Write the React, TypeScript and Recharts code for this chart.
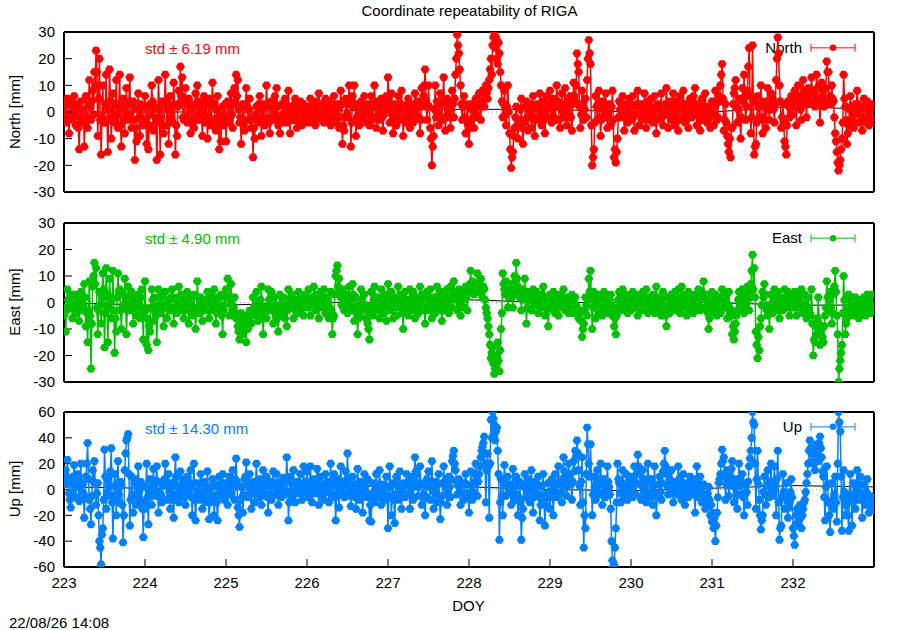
import { LineChart, Line, XAxis, YAxis, ReferenceLine } from "recharts";

// 15-minute solutions, DOY 223.0 .. 232.99 (96 per day)
const EPOCHS_PER_DAY = 96;
const FIRST_DOY = 223;

const dayTicks = [223, 224, 225, 226, 227, 228, 229, 230, 231, 232];
const nePanelTicks = [-30, -20, -10, 0, 10, 20, 30];
const upPanelTicks = [-60, -40, -20, 0, 20, 40, 60];

// North residuals [mm], 24 values = 6 hours per row
const northMm = [
  2, -1, -4, 3, 5, -2, -8, 4, 3, -3, -2, 2, 6, -1, -5, 3, 1, -6, -14, -2, 4, -4, -3, 1,
  -13, -4, 6, -2, -6, 3, 12, 2, -3, 4, 8, -1, 15, 10, 23, 15, -9, 5, 20, -3, -16, -2, 10, -4,
  -4, 3, 14, -3, -15, 1, 16, 4, -10, -2, 7, -4, -2, 3, 12, -1, -6, 2, 14, -5, -13, 2, 5, -3,
  -8, 2, 9, -1, -3, 4, 13, -2, -6, 3, 4, -3, -18, -6, -11, 1, 7, -2, -9, 3, 2, -4, -5, 2,
  6, -3, -12, 2, -14, -5, 3, -1, 10, 4, -7, 2, -2, -4, -18, -3, 12, 1, -16, -2, 4, -5, -8, 3,
  14, 4, -5, 1, -12, -3, 6, -2, 2, -4, 11, 3, -16, -5, -9, 2, 8, 3, 17, 6, 13, -2, -3, 4,
  9, -2, -4, 3, 5, -3, -8, 1, 2, -4, -6, 3, 7, 2, 10, -1, -3, 3, 4, -2, -9, 1, 6, -4,
  -2, 3, -10, -3, 5, -2, -5, 4, 11, 2, 3, -4, -7, 1, 6, -2, -14, -5, -11, -1, 2, -3, -5, 3,
  -11, -2, 4, -4, -3, 2, 7, -1, -6, 3, 9, 4, 14, 6, 12, 1, -4, -2, -12, -3, 3, -5, -7, 2,
  9, 2, -3, 1, 5, -3, -6, -2, -17, -6, -10, -1, 2, -3, -4, 3, 6, -2, -9, 1, 3, -4, -5, 2,
  10, 3, -2, -4, -8, -2, 4, 1, -3, 2, 6, -1, 9, 2, -5, -2, -8, -3, 3, -4, -1, 2, 5, -1,
  -4, 2, 8, -2, -8, 1, 2, -3, -3, 3, 5, -1, -6, 2, 1, -4, 4, -1, -5, 2, 3, -3, -2, 1,
  2, -2, -4, 1, 5, -1, -3, 3, 1, -3, -5, 2, 4, -1, 7, 2, -2, -3, 3, -1, -4, 2, 5, -2,
  -3, 1, 4, -2, -5, 2, 2, -3, 6, 1, -4, -1, 3, -2, -6, 2, 8, 3, -12, -5, -7, -2, 5, -1,
  -2, 3, 10, 4, -13, -4, 6, 2, 10, 3, -9, -2, 2, -1, -5, 1, 4, -2, -3, 2, 6, -1, -4, 2,
  3, -1, -5, 2, 6, -3, -2, 3, 10, 2, -6, -2, 4, -1, -3, 2, 5, -2, -7, -1, 2, 3, 6, 1,
  13, 5, -4, 2, 7, -1, -8, -2, 3, -3, -5, 1, 6, -2, -3, 3, 8, 1, -9, -3, 2, -1, -4, 3,
  5, -2, -6, 1, 3, -3, -4, 2, 7, 1, -2, 3, 4, -2, -8, -3, 9, 2, 6, 10, 16, 4, -3, 2,
  10, 2, -6, -10, -20, -13, -9, 1, 10, -2, 4, -1, -5, 3, 7, -2, -3, 4, 13, 3, -7, -2, 5, -1,
  4, 1, -6, -2, 8, 3, -2, 5, 14, 20, 29, 25, 22, 16, 10, 3, -3, 2, 6, -2, -8, -3, 3, -5,
  -12, -6, -4, 1, 3, -2, -6, 2, 5, -1, -2, 3, 7, 2, -3, 4, 8, 3, 2, 6, 10, 7, 5, 9,
  12, 16, 20, 14, 25, 28, 30, 24, 28, 20, 18, 26, 22, 15, 10, 4, -2, 3, 8, -1, -5, 2, 10, 0,
  -8, -14, -21, -17, -15, -9, -6, -2, 2, -5, -10, -3, -4, 1, 5, -6, -12, -4, -3, 2, 4, -2, -7, 1,
  3, -2, -6, 1, 6, -3, -9, -2, 2, 3, -3, 2, 7, -1, -5, 1, 4, -3, -8, -1, 6, 2, -2, 3,
  8, 2, -4, 1, 5, -2, -3, 3, 10, 4, 2, -3, -6, 1, 7, 2, -2, 3, 9, -1, -5, 1, 4, -2,
  6, -2, -7, 3, 11, 6, 4, 10, 22, 18, 15, 2, -6, -1, 8, 3, -3, 1, 5, -2, 12, 20, 27, 22,
  18, -5, -20, -17, -14, -4, 6, 2, -3, 3, 8, -2, -9, -3, 4, 1, -2, 3, 7, -1, -6, -2, 3, 1,
  -5, 2, 8, -3, -17, -14, -19, -15, -10, -2, 4, 1, -2, -1, 6, 2, -7, -2, 3, -1, -4, 2, 5, -2,
  -3, 2, 6, -2, -7, -1, 2, 3, 8, 2, -5, -1, 3, -3, -2, 1, 7, -2, -6, 1, 4, -1, -3, 2,
  5, -1, -4, 1, 6, -2, -8, -3, 3, 1, -2, 2, 7, -2, -5, -1, 2, 3, 9, 2, -6, -1, 4, -2,
  -3, 2, 7, -1, -5, 1, 4, -2, -7, -3, 6, 2, -2, 3, 8, -2, -4, 1, 3, -1, -6, -2, 5, 1,
  -2, 1, 6, 3, 9, 2, -5, -1, 3, -2, -7, -3, 5, 1, -3, 2, 7, -1, -4, 1, 2, -2, -6, 2,
  4, -1, -5, 2, 8, 3, -3, -2, 6, 4, 10, 14, 18, 5, -7, -3, 3, -4, -9, -12, -15, -10, -17, -6,
  -6, 3, 7, 9, 12, 2, -4, 1, 5, -3, -10, -2, 9, 4, 14, 6, -3, 2, 8, 17, 24, 6, -8, -2,
  25, 4, -16, -13, -12, -4, 6, 2, -2, 3, 10, -2, -8, -3, 4, 2, -6, 1, 9, 2, -3, 3, 7, 1,
  5, 1, -4, 3, 12, 20, 28, 22, 10, 4, -6, -2, 3, -4, -11, -13, -16, -5, 4, 2, -2, 3, 6, -1,
  3, 5, 8, 2, -5, 4, 10, 6, 4, 1, -3, 5, 12, 8, 6, 3, -2, 5, 9, 4, 3, 7, 13, 8,
  7, 4, 2, 8, 14, 9, 5, 3, -4, 5, 11, 6, 8, 2, 3, 9, 19, 15, 15, 4, 6, 3, 10, 5,
  4, -2, -8, -11, -15, -19, -22, -20, -18, -14, -10, -4, 14, 5, 2, -3, -12, -8, -5, 1, 6, 2, -3, -1,
  -6, -1, 3, 2, 8, 3, -4, 1, 2, -3, -7, -2, 5, 2, -2, -4, 4, 1, -5, -2, 1, 3, -3, -4,
];

// East residuals [mm]
const eastMm = [
  -5, -2, -11, -3, 5, 1, -2, 2, 3, -2, -6, -1, 1, 3, -4, -1, 2, -3, -7, -2, 4, 1, -3, -1,
  7, 2, -9, -4, -15, -3, 8, -5, -25, -8, 6, 10, 15, 7, 13, -2, -12, -3, 4, -1, -8, 2, 11, 5,
  -17, -4, 13, 3, -15, -2, 9, 2, -6, 1, 12, -3, -19, -6, -11, 2, 11, 4, 5, -3, -10, -2, 3, -1,
  9, 2, -12, -3, 6, 1, -3, -2, 4, -1, -8, -3, 2, 1, -5, -2, 3, -1, -6, 2, 5, -4, -14, -2,
  8, -3, -16, -6, -18, -9, -11, -2, 5, 1, -7, -3, 2, -5, -15, -4, 5, -1, -4, 2, 3, -2, -9, -1,
  4, -2, -6, -1, 1, -3, -3, 2, 5, -2, -8, -3, 2, 1, -4, -1, 6, 2, -2, -3, 3, -1, -6, -2,
  -3, 1, 4, -2, -8, -3, 2, -1, -5, -2, 3, -4, -10, -3, 8, 2, -4, -1, 2, -2, -7, -3, 1, -1,
  -3, -1, 4, -2, -6, -3, 3, 1, -2, -2, 5, 1, -8, -4, 2, -1, -4, -2, 3, -5, -12, -3, -1, 2,
  5, 3, 9, 2, -5, 1, 7, -1, -3, -2, 2, -4, -6, -5, -9, -11, -14, -8, -4, -7, -12, -9, -7, -5,
  -15, -9, -10, -6, -3, -5, -8, -3, 2, -2, -5, -1, 4, -3, -7, -4, -2, 1, 6, -2, -12, -6, -4, -2,
  -6, -2, 5, 1, -3, -1, 4, -3, -8, -2, 2, -1, -5, -6, -11, -3, 3, -1, -4, -2, 2, -3, -6, -1,
  -9, -3, 5, 1, -2, -1, 3, -2, -6, -1, 1, -2, -4, 1, 4, -1, -3, -2, 2, -1, -5, 1, 3, -1,
  -2, 1, 5, -1, -5, 1, 2, 2, 6, 2, -3, -1, 3, -2, -6, 1, 4, -1, -2, 2, 5, 1, -4, -1,
  2, -1, -6, -2, 4, -3, -12, -6, -5, 3, 10, 12, 14, 6, 9, 4, 2, -1, 5, 1, -3, 2, 3, -1,
  -4, 2, 6, 1, -3, -2, 7, 3, -7, -2, 2, -4, -12, -6, -5, -1, 5, 1, -2, -3, 3, -1, -6, -2,
  -8, -10, -14, -4, 4, -1, -5, 1, 6, 2, -3, -2, 2, -1, -6, -2, 5, 1, -4, -2, 3, -1, -7, -3,
  7, 2, -3, 1, 4, -1, -6, -2, 2, -1, -5, 1, 6, 2, -2, -1, 3, -4, -10, -3, 4, 1, -4, -1,
  -5, 1, 5, -1, -3, 2, 4, -2, -6, -1, 2, -2, -4, 1, 6, 2, -2, 1, 3, -3, -8, -2, 4, 1,
  -3, 1, 5, -1, -6, -2, 2, 1, -4, 2, 6, 1, -3, -1, 4, -2, -7, -3, 3, 1, -2, 2, 5, 1,
  -4, 2, 6, 1, -2, 3, 8, 4, 3, 1, -3, 2, 5, -1, -5, 2, 4, 1, -2, 3, 6, 2, -3, 4,
  5, 7, 12, 5, 8, 4, 3, 7, 6, 5, 11, 6, 4, 8, 9, 4, 2, 6, 5, 1, -2, -4, -6, -9,
  -12, -16, -21, -19, -17, -23, -27, -25, -24, -20, -15, -22, -26, -18, -10, -4, 11, 7, 5, 3, 8, 4, -2, 2,
  3, 5, 7, 2, -2, 4, 10, 8, 15, 9, 6, 3, 2, 5, -3, 1, 5, 3, 9, 4, -8, -2, 4, 1,
  2, 1, -3, 2, 5, 3, -1, 1, 4, -1, -4, 2, 3, 1, -2, 3, 6, 1, -5, -2, 1, -3, -9, -2,
  3, 1, -2, 2, 4, -1, -4, 1, 2, -2, -5, -1, 3, 1, -1, -2, 5, 1, -3, -1, 2, -2, -4, 1,
  -1, -2, 3, 1, -4, -1, 2, -1, -2, -3, -6, -4, -3, -7, -13, -10, -8, -3, 2, -1, -5, 1, 9, 4,
  12, 3, -10, -2, 4, 1, -6, -1, 3, 2, -4, -1, 2, -2, -5, 1, 4, 2, -3, -1, 2, -1, -4, 1,
  3, -1, -5, -4, -9, -6, -12, -5, -2, 1, 4, 2, -3, -1, 5, 1, -2, -1, 3, 2, -4, -1, 2, -2,
  -3, 1, 4, -1, -2, 1, 3, -2, -5, -1, 2, -2, -3, 1, 4, -1, -2, 2, 5, 1, -4, -1, 1, 2,
  -2, 1, 3, -1, -4, 2, 6, 1, -3, -1, 2, -2, -5, 1, 4, -1, -3, -5, -9, -2, 2, -1, -4, 1,
  3, -1, -2, 1, 4, -2, -3, 1, 5, -1, -4, 2, 6, 1, -2, -1, 3, -2, -5, 1, 4, -1, -3, 2,
  2, -1, -4, 1, 3, -2, -2, 1, 5, -1, -3, 2, 4, 3, 8, 2, -2, 1, 3, -4, -10, -6, -4, -1,
  4, 1, -3, -1, 3, -2, -5, 1, 2, -1, -4, 2, 5, -1, -2, 1, 3, -2, -6, -1, 4, -2, -3, -5,
  -12, -9, -14, -11, -8, -5, -3, 1, 4, -1, -2, 2, 5, 1, -4, -1, 3, 2, 6, 1, -3, 4, 7, 12,
  18, 5, 13, 2, -11, -16, -21, -13, -18, -9, -6, -1, 4, 2, 7, 3, -2, -3, -5, -1, -10, -2, 3, -1,
  -4, 1, 5, -1, -3, 2, 4, -2, -6, -1, 2, 1, -3, -2, 5, 1, -2, -1, 4, 2, -5, -2, 3, 1,
  -2, 1, 4, -1, -5, -2, 3, 1, -2, 2, 5, -1, -4, -2, 3, -1, -6, -3, 2, -2, -4, -5, 5, -8,
  -20, -14, -15, -9, -12, -6, 2, -8, -16, -12, -10, -13, -15, -9, -5, -2, 8, 2, -3, 1, 4, -2, -8, -4,
  3, 6, 12, 4, -5, -12, -30, -25, -22, -19, -16, -4, 10, 1, -12, -8, -6, -2, 3, 1, -4, -1, 2, -3,
  -5, -2, 2, -1, -3, -3, -6, -2, 1, -1, -4, -3, 2, -1, -5, -2, 3, 1, -2, -3, -4, -1, 3, -2,
];

// Up residuals [mm]
const upMm = [
  8, 4, 15, 10, 23, 6, -3, -8, -14, -2, 5, 10, 19, 3, -6, 5, 12, 2, -9, 6, 20, -5, 4, -3,
  -22, -6, 10, 20, 36, 8, -8, -15, -27, -5, 15, 6, 22, 4, -12, -3, 5, -20, -40, -45, -58, -35, -30, -8,
  31, 10, -15, -3, 8, 2, -5, 14, 32, -10, -38, -5, 12, 3, -20, 5, 22, -4, -10, 6, 3, -12, -41, -20,
  15, 28, 38, 40, 43, 12, -28, -8, 10, -4, -18, -6, 5, 8, -12, 4, 18, -2, -8, 6, 2, -15, -37, -10,
  -15, 2, 20, -6, -27, -4, 8, -2, -12, 4, 16, 3, -5, 7, 18, -5, -18, -2, 6, -4, -10, 5, 3, 8,
  20, 4, -8, 3, 12, -2, -15, -4, 5, -8, -22, 6, 25, 10, 2, -4, -10, 2, 14, 3, -5, -2, 8, -6,
  -12, 2, 10, -4, -3, 5, 15, -6, -20, 4, 20, -8, -24, -6, 5, -2, -8, 4, 12, -3, -15, -4, 6, -6,
  -10, 3, 14, -2, -23, -10, -6, 2, 8, -5, -20, -7, 4, -10, -24, -4, 10, 2, -5, 5, 12, -2, -8, 4,
  5, -3, -12, 2, 10, -4, -4, 6, 15, 2, -8, 8, 24, 6, -14, -20, -29, -8, 2, -6, -18, -4, 8, 10,
  21, 4, -6, 3, 12, -2, -15, -3, 4, 6, -10, 5, 20, 2, -3, -6, 8, 4, -12, -2, 15, 3, -5, 6,
  10, -6, -18, -4, 6, 2, -8, 4, 14, 3, -4, 5, 12, -2, -12, -4, 3, 6, -6, 2, 9, -4, -2, 8,
  25, 6, -24, -10, 10, -2, -5, 4, 15, 3, -10, -3, 6, 2, -2, 5, 12, -3, -8, 4, 18, -2, 3, 6,
  14, 3, -6, 5, 18, 2, -10, -2, 8, 4, -3, 6, 16, -2, -12, 3, 10, -3, 4, -4, -8, 2, 12, 5,
  6, -2, -10, 4, 20, 6, -4, 3, 12, -6, -24, -4, 8, 2, -14, 4, 18, 6, 5, -2, -6, 3, 14, 8,
  28, 8, -5, -2, -13, 2, 10, -3, 4, -6, -15, 3, 16, 5, -8, -2, 6, -5, -18, -4, 12, 3, -2, -6,
  8, -4, -24, -12, -25, -6, 5, -2, -10, 3, 12, 2, -6, 4, 15, -3, -12, -2, 3, 4, -8, 2, 10, -6,
  -30, -5, 18, 2, -20, -6, 5, -8, -26, -4, 10, 3, -8, 4, 14, -2, -15, -3, 2, 5, -6, 3, 12, 4,
  6, -3, -15, -4, 10, 2, -8, 6, 25, 14, 12, 2, -5, 5, 18, 4, -12, -6, 4, -4, -20, -6, 8, 2,
  14, 3, -8, 6, 22, 4, -15, -2, 6, -3, -10, 4, 12, -6, -23, -10, -5, 5, 18, 6, 2, -4, -12, -2,
  10, 2, -6, 8, 22, 26, 30, 20, 15, 6, -4, 3, 8, -2, -12, -3, 4, -4, -8, 5, 12, 4, -3, -6,
  -18, -4, 14, 3, -8, -2, 5, 12, 20, 8, -5, 6, 12, 18, 25, 30, 33, 36, 41, 20, -10, 15, 28, 18,
  -22, 20, 54, 40, 60, 55, 50, 38, 45, 48, 30, 12, -39, -10, 8, -6, -20, 5, 19, 8, -5, 4, 10, -2,
  4, -3, -12, 2, 16, 4, -8, 3, 10, -4, -20, -6, 6, -10, -39, -22, -15, 2, 12, 3, -6, -2, 8, -4,
  -10, 3, 15, -2, -18, -6, 6, 2, -5, 4, 10, -4, -24, -12, -8, 3, 12, -10, -28, -12, -3, -6, 5, -2,
  -15, -4, 8, -6, -20, 2, 12, -3, -6, 5, 18, 6, 4, -2, -10, 8, 25, 14, 10, 2, -5, 6, 20, 10,
  12, 4, -8, 6, 22, 14, 30, 26, 38, 28, 15, 3, -12, 6, 25, -10, -45, -20, -30, 12, 48, 35, 20, 10,
  35, 10, -20, -4, 10, 2, -8, 5, 15, 6, -4, 8, 20, 4, -12, -2, 8, 3, -6, 5, 18, 6, 2, -4,
  -15, -40, -55, -60, -58, -45, -30, -10, 20, 8, 5, -3, -10, 2, 15, 4, -5, 3, 12, -2, -8, 2, 6, -4,
  10, 2, -6, 5, 18, 6, -4, 12, 27, 18, 12, 4, -8, 3, 15, 8, 2, -4, -10, 6, 20, 8, -3, -6,
  8, -2, -12, 3, 18, -4, -20, -6, -5, 4, 10, -2, -8, 5, 14, 20, 30, 18, 12, 3, -4, 2, 8, -3,
  15, 4, -10, -2, 6, 3, -4, 6, 18, 8, 2, -4, -8, 3, 12, -3, -12, -2, 5, 4, -6, 2, 10, -2,
  -3, 4, 8, -4, -18, 2, 18, 5, -6, 3, 10, -2, -10, -5, 4, -6, -15, -10, -8, -3, 2, -8, -20, -12,
  -25, -18, -30, -22, -40, -28, -18, -6, 5, 8, 12, 20, 31, 22, 25, 10, -8, 4, 15, 6, -5, 3, 10, 16,
  22, 6, -10, 2, 8, -4, -15, 3, 20, 8, -4, 4, 12, -6, -20, -3, 5, -2, -12, 6, 18, 24, 30, 40,
  60, 52, 50, 20, -15, 8, 30, 4, -8, -20, -31, -24, -20, -2, 10, -4, -12, 3, 15, 4, -6, 6, 20, -2,
  -5, 6, 18, 2, -20, 8, 30, -10, -39, -30, -28, -6, 12, -2, -15, -4, 5, -8, -22, -14, -10, -2, 8, -6,
  -30, -36, -43, -28, -20, -15, -25, -18, -12, -22, -30, -20, -15, -10, -8, -2, 5, 12, 20, 30, 38, 32, 28, 22,
  30, 20, 15, 28, 35, 30, 22, 36, 41, 32, 25, 14, 10, -6, -24, 2, 18, 4, -10, -20, -33, -12, 5, -8,
  -15, -4, 10, -10, -25, 20, 60, 52, 45, 10, -32, -6, 15, -2, -20, -12, -8, -20, -32, -4, 12, -6, -28, -10,
  5, -4, -15, 2, 15, 4, -8, -2, 10, -6, -22, -8, 4, -3, -12, -2, 8, -6, -18, -10, -5, -12, -16, -8,
];

// daily running mean (black line), DOY 223..233
const northTrend = [0, 0, 0, 0, 1, 1, 1, 0, 0, 2, 1];
const eastTrend = [0, -1, -1, 0, 0, 1, 0, 0, 0, -1, -1];
const upTrend = [2, 1, 0, 1, 3, 2, 0, -1, 1, 3, 2];

const FONT = '"Liberation Sans", Arial, Helvetica, sans-serif';

const toRows = (values: number[]) =>
  values.map((v, i) => ({ doy: FIRST_DOY + i / EPOCHS_PER_DAY, v }));
const toTrend = (values: number[]) =>
  values.map((v, i) => ({ doy: FIRST_DOY + i, v }));

type PanelProps = {
  top: number;
  height: number;
  padTop: number;
  padBottom: number;
  values: number[];
  trend: number[];
  color: string;
  domain: [number, number];
  ticks: number[];
  showDays?: boolean;
};

function Panel({ top, height, padTop, padBottom, values, trend, color, domain, ticks, showDays }: PanelProps) {
  const rows = toRows(values);
  const trendRows = toTrend(trend);

  const renderDot = (p: any) => {
    const { cx, cy, index } = p;
    if (cx == null || cy == null) return <g key={`d${index}`} />;
    return (
      <polygon
        key={`d${index}`}
        points={`${cx - 4.5},${cy} ${cx - 2.2},${cy - 3.8} ${cx + 2.2},${cy - 3.8} ${cx + 4.5},${cy} ${cx + 2.2},${cy + 3.8} ${cx - 2.2},${cy + 3.8}`}
        fill={color}
      />
    );
  };

  const frame = { stroke: "#000", strokeWidth: 2 };
  const tickStyle = { fontSize: 15, fill: "#000", fontFamily: FONT };
  // only the bottom panel carries day ticks
  const dayTickLine = showDays ? { stroke: "#000" } : false;

  return (
    <div style={{ position: "absolute", left: 0, top }}>
      <LineChart width={900} height={height} data={rows} margin={{ top: 0, right: 0, bottom: 0, left: 0 }}>
        <XAxis
          dataKey="doy"
          type="number"
          domain={[223, 233]}
          ticks={dayTicks}
          interval={0}
          allowDataOverflow
          height={padBottom}
          tickSize={-8}
          tickMargin={18}
          tick={showDays ? tickStyle : false}
          axisLine={frame}
          tickLine={dayTickLine}
        />
        <XAxis
          xAxisId="top"
          orientation="top"
          dataKey="doy"
          type="number"
          domain={[223, 233]}
          ticks={dayTicks}
          interval={0}
          allowDataOverflow
          height={padTop}
          tickSize={-8}
          tick={false}
          axisLine={frame}
          tickLine={dayTickLine}
        />
        <YAxis
          type="number"
          domain={domain}
          ticks={ticks}
          interval={0}
          allowDataOverflow
          width={64}
          tickSize={-8}
          tickMargin={17}
          tick={tickStyle}
          axisLine={frame}
          tickLine={{ stroke: "#000" }}
        />
        <YAxis
          yAxisId="right"
          orientation="right"
          type="number"
          domain={domain}
          ticks={ticks}
          interval={0}
          allowDataOverflow
          width={26}
          tickSize={-8}
          tick={false}
          axisLine={frame}
          tickLine={{ stroke: "#777" }}
        />
        <ReferenceLine y={0} stroke="#a0a0a0" strokeDasharray="1 3" />
        <Line
          data={trendRows}
          dataKey="v"
          stroke="#000"
          strokeWidth={1}
          dot={false}
          activeDot={false}
          isAnimationActive={false}
        />
        <Line
          dataKey="v"
          stroke={color}
          strokeWidth={1.5}
          dot={renderDot}
          activeDot={false}
          isAnimationActive={false}
        />
      </LineChart>
    </div>
  );
}

function LegendKey({ y, label, color, textY }: { y: number; label: string; color: string; textY: number }) {
  return (
    <g>
      <text x={802} y={textY} textAnchor="end" fontSize={15} fill="#000">
        {label}
      </text>
      <g stroke={color} strokeOpacity={0.65} strokeWidth={1.5}>
        <line x1={811} x2={855} y1={y} y2={y} />
        <line x1={811} x2={811} y1={y - 4} y2={y + 4} />
        <line x1={855} x2={855} y1={y - 4} y2={y + 4} />
      </g>
      <circle cx={833} cy={y} r={3.2} fill={color} />
    </g>
  );
}

export default function App() {
  return (
    <div
      style={{
        position: "absolute",
        left: 0,
        top: 0,
        width: 900,
        height: 630,
        background: "#fff",
        fontFamily: FONT,
      }}
    >
      <svg width={900} height={630} style={{ position: "absolute", left: 0, top: 0 }} fontFamily={FONT}>
        <text x={469.5} y={15.5} textAnchor="middle" fontSize={15} fill="#000">
          Coordinate repeatability of RIGA
        </text>

        <text x={20} y={112} textAnchor="middle" fontSize={15} fill="#000" transform="rotate(-90 20 112)">
          North [mm]
        </text>
        <text x={20} y={302} textAnchor="middle" fontSize={15} fill="#000" transform="rotate(-90 20 302)">
          East [mm]
        </text>
        <text x={20} y={489} textAnchor="middle" fontSize={15} fill="#000" transform="rotate(-90 20 489)">
          Up [mm]
        </text>

        <text x={145} y={54} fontSize={15} fill="#ff0000">std ± 6.19 mm</text>
        <text x={145} y={244} fontSize={15} fill="#00c000">std ± 4.90 mm</text>
        <text x={145} y={433.5} fontSize={15} fill="#0080ff">std ± 14.30 mm</text>

        <LegendKey y={47.7} textY={53.3} label="North" color="#ff0000" />
        <LegendKey y={238.3} textY={243.3} label="East" color="#00c000" />
        <LegendKey y={426.7} textY={431.7} label="Up" color="#0080ff" />

        <text x={468.5} y={610.7} textAnchor="middle" fontSize={15} fill="#000">DOY</text>
        <text x={9} y={628.3} fontSize={15} fill="#000">22/08/26 14:08</text>
      </svg>

      <Panel
        top={0}
        height={200}
        padTop={32}
        padBottom={8}
        values={northMm}
        trend={northTrend}
        color="#ff0000"
        domain={[-30, 30]}
        ticks={nePanelTicks}
      />
      <Panel
        top={200}
        height={190}
        padTop={23}
        padBottom={8}
        values={eastMm}
        trend={eastTrend}
        color="#00c000"
        domain={[-30, 30]}
        ticks={nePanelTicks}
      />
      <Panel
        top={390}
        height={240}
        padTop={22}
        padBottom={63}
        values={upMm}
        trend={upTrend}
        color="#0080ff"
        domain={[-60, 60]}
        ticks={upPanelTicks}
        showDays
      />
    </div>
  );
}
